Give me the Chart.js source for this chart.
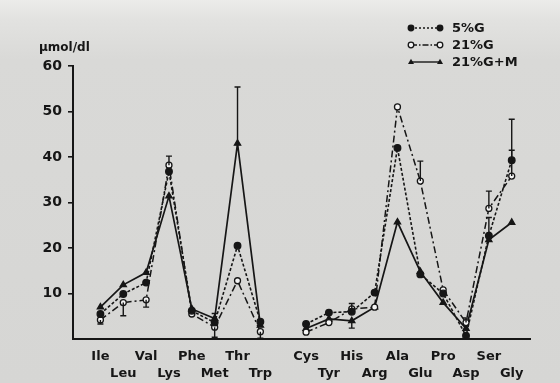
<!DOCTYPE html>
<html>
<head>
<meta charset="utf-8">
<script src="https://cdn.jsdelivr.net/npm/chart.js@4/dist/chart.umd.min.js"></script>
<style>
html,body{margin:0;padding:0;}
body{width:560px;height:383px;overflow:hidden;background:linear-gradient(#ececea 0px,#e2e2e0 20px,#d9d9d7 60px,#d6d6d4 383px);}
canvas{display:block;}
</style>
</head>
<body>
<canvas id="c" width="560" height="383"></canvas>
<script>
const categories = ['Ile','Leu','Val','Lys','Phe','Met','Thr','Trp','','Cys','Tyr','His','Arg','Ala','Glu','Pro','Asp','Ser','Gly'];
const yTicks = [10,20,30,40,50,60];
const seriesNames = ['5%G','21%G','21%G+M'];
const g5  = [5.5, 9.9, 12.4, 36.8, 6.2, 3.6, 20.5, 3.8, null, 3.3, 5.8, 6.0, 10.2, 42.0, 14.2, 10.0, 0.7, 22.7, 39.3];
const g21 = [4.2, 8.0, 8.6, 38.2, 5.5, 2.6, 12.8, 1.6, null, 1.5, 3.6, 6.6, 7.0, 51.0, 34.7, 10.8, 3.6, 28.7, 35.8];
const gM  = [7.0, 11.9, 14.6, 31.4, 6.6, 4.5, 43.0, 3.0, null, 2.3, 4.4, 4.0, 7.0, 25.7, 14.8, 8.0, 2.3, 21.8, 25.6];
// error bar end values (null = none)
const g5Err  = [null,null,null,null,null,null,null,null,null,null,null,null,null,null,null,null,null,26.7,48.3];
const g21Err = [3.3, 5.1, 7.0, 40.2, null, 0.4, null, 0.2, null, null, null, 7.8, null, null, 39.1, null, 4.6, 32.5, 41.5];
const gMErr  = [null,null,null,null,null,5.6,55.4,null,null,null,null,2.4,null,null,null,null,null,null,null];

const toXY = arr => arr.map((v,i)=>({x:i,y:v}));
const INK = '#161616';

const errPlugin = {
  id:'errbars',
  afterDatasetsDraw(chart){
    const ctx = chart.ctx, xs = chart.scales.x, ys = chart.scales.y;
    const sets = [[g5,g5Err],[g21,g21Err],[gM,gMErr]];
    ctx.save();
    ctx.strokeStyle = INK; ctx.lineWidth = 1.4; ctx.setLineDash([]);
    sets.forEach(([vals,errs])=>{
      errs.forEach((e,i)=>{
        if(e===null||vals[i]===null) return;
        const x = xs.getPixelForValue(i);
        const y0 = ys.getPixelForValue(vals[i]);
        const y1 = ys.getPixelForValue(e);
        ctx.beginPath(); ctx.moveTo(x,y0); ctx.lineTo(x,y1);
        ctx.moveTo(x-3,y1); ctx.lineTo(x+3,y1); ctx.stroke();
      });
    });
    ctx.restore();
  }
};

const decoPlugin = {
  id:'deco',
  afterDraw(chart){
    const ctx = chart.ctx;
    ctx.save();
    ctx.fillStyle = INK;
    ctx.font = 'bold 12px "DejaVu Sans"';
    ctx.textBaseline = 'middle';
    ctx.textAlign = 'left';
    ctx.fillText('\u03bcmol/dl', 39, 48);
    // legend
    const items = [
      {y:28, dash:[2,2], marker:'fill'},
      {y:45, dash:[6,2,1.5,2], marker:'open'},
      {y:62, dash:[], marker:'tri'}
    ];
    items.forEach((it,k)=>{
      ctx.strokeStyle = INK; ctx.lineWidth = 1.4;
      ctx.setLineDash(it.dash);
      ctx.beginPath(); ctx.moveTo(411,it.y); ctx.lineTo(440,it.y); ctx.stroke();
      ctx.setLineDash([]);
      [411,440].forEach(px=>{
        ctx.beginPath();
        if(it.marker==='tri'){
          ctx.moveTo(px,it.y-3.2); ctx.lineTo(px+3,it.y+2); ctx.lineTo(px-3,it.y+2); ctx.closePath();
          ctx.fillStyle = INK; ctx.fill();
        } else {
          ctx.arc(px,it.y,2.8,0,Math.PI*2);
          ctx.fillStyle = it.marker==='fill'?INK:'#f4f4f4'; ctx.fill();
          ctx.lineWidth = 1.3; ctx.stroke();
        }
      });
      ctx.fillStyle = INK;
      ctx.font = 'bold 13px "DejaVu Sans"';
      ctx.fillText(seriesNames[k], 452, it.y+1);
    });
    ctx.restore();
  }
};

function labelRank(i){ let r=0; for(let k=0;k<i;k++){ if(categories[k]) r++; } return r; }

const common = {borderColor:INK, pointBorderColor:INK, pointBorderWidth:1.3, spanGaps:false, tension:0, fill:false};
new Chart(document.getElementById('c'), {
  type:'line',
  data:{
    datasets:[
      Object.assign({label:seriesNames[0], data:toXY(g5), borderWidth:1.6, borderDash:[3,2], pointStyle:'circle', pointRadius:3.3, pointBackgroundColor:INK}, common),
      Object.assign({label:seriesNames[1], data:toXY(g21), borderWidth:1.5, borderDash:[7,3,2,3], pointStyle:'circle', pointRadius:3, pointBackgroundColor:'#f4f4f4'}, common),
      Object.assign({label:seriesNames[2], data:toXY(gM), borderWidth:1.7, pointStyle:'triangle', pointRadius:3.6, pointBackgroundColor:INK}, common)
    ]
  },
  options:{
    responsive:false, animation:false,
    layout:{padding:{top:66,right:30,left:0,bottom:0}},
    plugins:{legend:{display:false}, tooltip:{enabled:false}},
    scales:{
      x:{
        type:'linear', min:-1.2, max:18.8,
        afterBuildTicks(s){ s.ticks = categories.map((c,i)=>({value:i})); },
        afterFit(s){ s.height = 44; },
        grid:{display:false, drawTicks:false},
        border:{display:true, color:INK, width:2},
        ticks:{
          autoSkip:false, maxRotation:0, padding:9, color:INK,
          font:{family:'"DejaVu Sans"', size:13, weight:'bold', lineHeight:1.3},
          callback(v){ const i=Math.round(v); const n=categories[i]||''; if(!n) return ''; return (labelRank(i)%2===0)?[n,' ']:[' ',n]; }
        }
      },
      y:{
        min:0, max:60,
        afterBuildTicks(s){ s.ticks = [0].concat(yTicks).map(v=>({value:v})); },
        afterFit(s){ s.width = 73; },
        grid:{drawOnChartArea:false, drawTicks:true, tickLength:5, color:c=>c.tick&&c.tick.value===0?'rgba(0,0,0,0)':INK, lineWidth:1.6},
        border:{display:true, color:INK, width:2},
        ticks:{padding:6, color:INK, font:{family:'"DejaVu Sans"', size:14, weight:'bold'}, callback:v=>v===0?'':String(v)}
      }
    }
  },
  plugins:[errPlugin, decoPlugin]
});
</script>
</body>
</html>
